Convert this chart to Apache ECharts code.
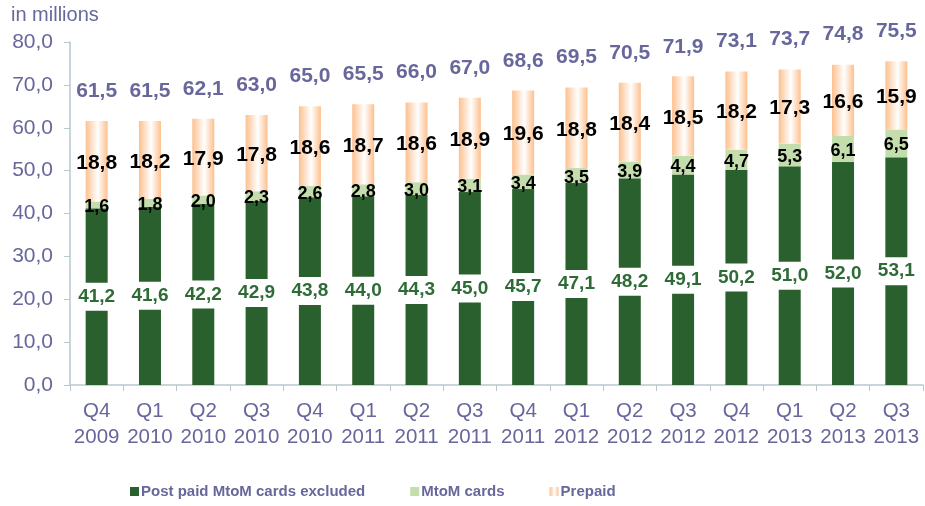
<!DOCTYPE html>
<html>
<head>
<meta charset="utf-8">
<script src="https://cdn.jsdelivr.net/npm/echarts@6/dist/echarts.min.js"></script>
<style>html,body{margin:0;padding:0;background:#fff}#c{width:925px;height:506px}</style>
</head>
<body>
<div id="c"></div>
<script>
var categories = ['Q4\n2009','Q1\n2010','Q2\n2010','Q3\n2010','Q4\n2010','Q1\n2011','Q2\n2011','Q3\n2011','Q4\n2011','Q1\n2012','Q2\n2012','Q3\n2012','Q4\n2012','Q1\n2013','Q2\n2013','Q3\n2013'];
var postPaid = [41.2, 41.6, 42.2, 42.9, 43.8, 44.0, 44.3, 45.0, 45.7, 47.1, 48.2, 49.1, 50.2, 51.0, 52.0, 53.1];
var mtom = [1.6, 1.8, 2.0, 2.3, 2.6, 2.8, 3.0, 3.1, 3.4, 3.5, 3.9, 4.4, 4.7, 5.3, 6.1, 6.5];
var prepaid = [18.8, 18.2, 17.9, 17.8, 18.6, 18.7, 18.6, 18.9, 19.6, 18.8, 18.4, 18.5, 18.2, 17.3, 16.6, 15.9];
var totals = [61.5, 61.5, 62.1, 63.0, 65.0, 65.5, 66.0, 67.0, 68.6, 69.5, 70.5, 71.9, 73.1, 73.7, 74.8, 75.5];
var seriesNames = ['Post paid MtoM cards excluded', 'MtoM cards', 'Prepaid'];

var FONT = '"Liberation Sans", Arial, sans-serif';
var TXT = '#67679C';
var AX = '#B7C7CF';
function fmt(v){ return Number(v).toFixed(1).replace('.', ','); }

var chart = echarts.init(document.getElementById('c'), null, {renderer: 'canvas'});
chart.setOption({
  animation: false,
  textStyle: {fontFamily: FONT},
  graphic: [{type: 'text', left: 11, top: 5, style: {text: 'in millions', fill: TXT, font: '20px ' + FONT}}],
  grid: {left: 70, right: 2, top: 42, bottom: 121, containLabel: false},
  legend: {
    data: seriesNames,
    bottom: 2, left: 125,
    itemGap: 45, itemWidth: 9, itemHeight: 9, icon: 'rect',
    textStyle: {color: TXT, fontWeight: 'bold', fontSize: 15, fontFamily: FONT, padding: [0,0,0,-3]}
  },
  xAxis: {
    type: 'category', data: categories,
    axisLine: {lineStyle: {color: AX, width: 1.5}},
    axisTick: {show: true, length: 6, lineStyle: {color: AX}},
    axisLabel: {interval: 0, color: TXT, fontSize: 20.5, lineHeight: 26, margin: 13, fontFamily: FONT}
  },
  yAxis: {
    type: 'value', min: 0, max: 80, interval: 10,
    splitLine: {show: false},
    axisLine: {show: true, lineStyle: {color: AX, width: 1.5}},
    axisTick: {show: true, length: 6, lineStyle: {color: AX}},
    axisLabel: {color: TXT, fontSize: 21, margin: 17, fontFamily: FONT, formatter: fmt}
  },
  series: [
    {
      name: seriesNames[0], type: 'bar', stack: 's', data: postPaid, barWidth: 22,
      itemStyle: {color: '#29602D'},
      label: {show: true, position: 'inside', formatter: function(p){return fmt(p.value);},
        color: '#2E6B36', fontWeight: 'bold', fontSize: 19, fontFamily: FONT,
        backgroundColor: '#fff', padding: [5, 2, 4, 2]}
    },
    {
      name: seriesNames[1], type: 'bar', stack: 's', data: mtom,
      itemStyle: {color: '#C4DDAD'},
      label: {show: true, position: 'inside', offset: [0, 2], formatter: function(p){return fmt(p.value);},
        color: '#000', fontWeight: 'bold', fontSize: 18, fontFamily: FONT}
    },
    {
      name: seriesNames[2], type: 'bar', stack: 's', data: prepaid,
      itemStyle: {color: new echarts.graphic.LinearGradient(0, 0, 1, 0, [
        {offset: 0, color: '#FDC08E'}, {offset: 0.55, color: '#FFFFFF'}, {offset: 1, color: '#FDC08E'}])},
      label: {show: true, position: 'inside', offset: [0, 2], formatter: function(p){return fmt(p.value);},
        color: '#000', fontWeight: 'bold', fontSize: 21, fontFamily: FONT}
    },
    {
      name: 'Total', type: 'line', data: totals, symbol: 'circle', symbolSize: 1, showSymbol: true, silent: true,
      itemStyle: {color: 'rgba(0,0,0,0)'},
      lineStyle: {opacity: 0, width: 0},
      label: {show: true, position: 'top', distance: 19, formatter: function(p){return fmt(p.value);},
        color: TXT, fontWeight: 'bold', fontSize: 21, fontFamily: FONT}
    }
  ]
});
</script>
</body>
</html>
